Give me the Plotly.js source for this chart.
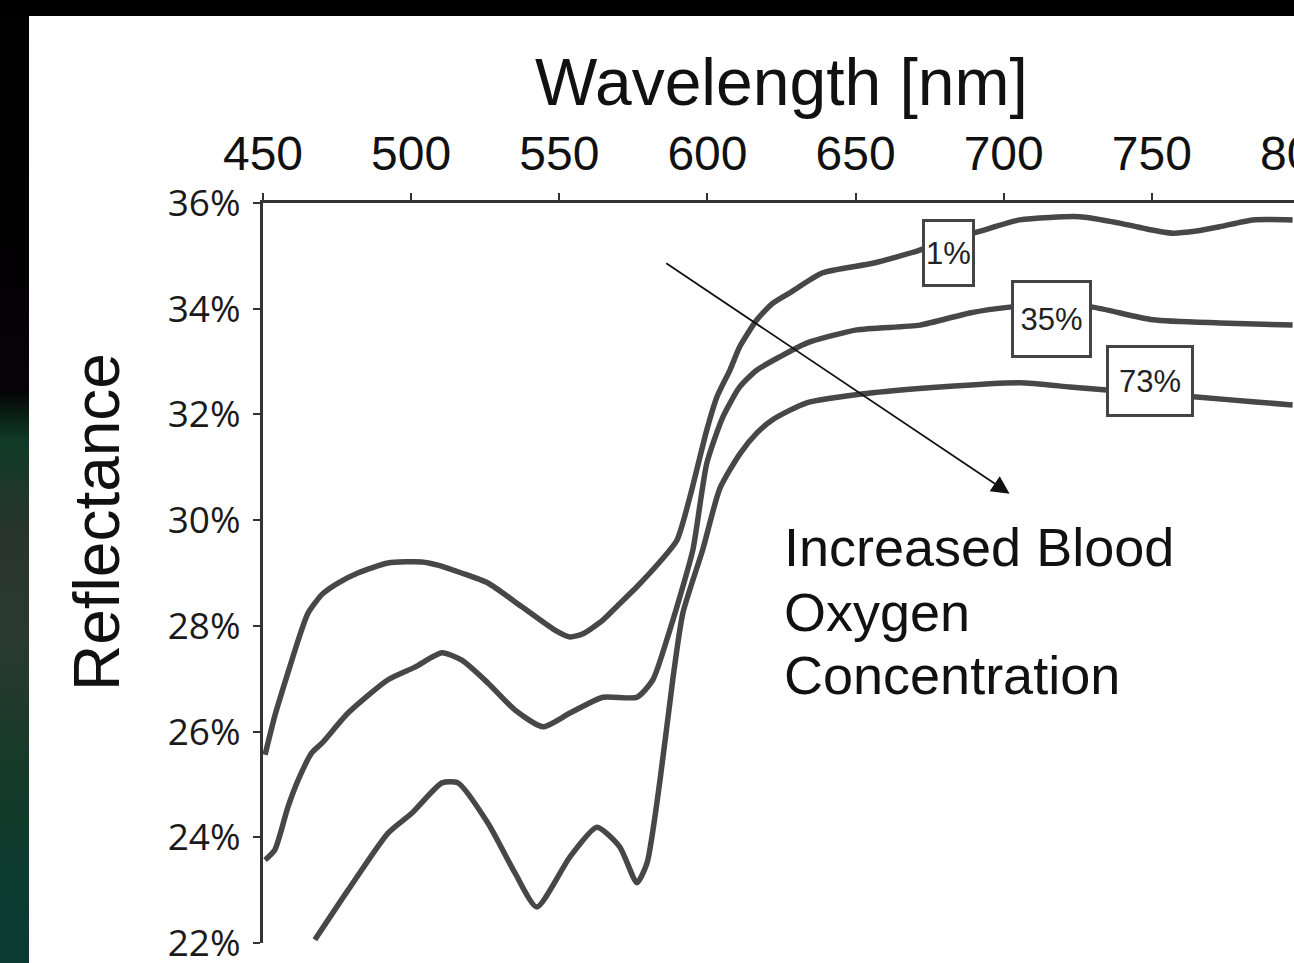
<!DOCTYPE html>
<html>
<head>
<meta charset="utf-8">
<script src="https://cdn.plot.ly/plotly-3.0.1.min.js"></script>
<style>
  html, body { margin:0; padding:0; width:1294px; height:963px; overflow:hidden; background:#000; }
  #strip { position:absolute; left:0; top:0; width:29px; height:963px;
    background: linear-gradient(to bottom, #000 0px, #050305 390px, #0f3a26 440px, #28352c 530px, #2a3a30 640px, #163a28 760px, #0c3b2f 880px, #0a3a32 963px); }
  #chart { position:absolute; left:29px; top:16px; width:1331px; height:1000px; background:#fff; }
</style>
</head>
<body>
<div id="strip"></div>
<div id="chart"></div>
<script>
// Wavelength ticks
const xTicks = [450, 500, 550, 600, 650, 700, 750, 800];
const yTicks = [22, 24, 26, 28, 30, 32, 34, 36];
const yTickText = ['22%', '24%', '26%', '28%', '30%', '32%', '34%', '36%'];

// 1% oxygen concentration
const wl1 = [450.7, 454, 458.4, 462, 465.2, 470, 475.3, 482, 492.2, 503.6, 509, 517, 525.9, 537.4, 548.5, 553.6, 558, 564.7, 570, 576.2, 583, 589.7, 594.1, 599.8, 603.2, 607.6, 610.9, 616.7, 622, 627.8, 638.9, 655.8, 671.7, 680, 690.9, 705.4, 725.6, 739.1, 749, 757, 765, 772.9, 784, 797.5];
const r1  = [25.56, 26.3, 27.11, 27.75, 28.24, 28.6, 28.81, 29.0, 29.19, 29.21, 29.15, 29.0, 28.81, 28.36, 27.92, 27.79, 27.85, 28.11, 28.4, 28.74, 29.15, 29.62, 30.44, 31.71, 32.33, 32.84, 33.28, 33.79, 34.1, 34.3, 34.68, 34.86, 35.11, 35.3, 35.45, 35.68, 35.74, 35.62, 35.5, 35.43, 35.47, 35.55, 35.68, 35.68];

// 35% oxygen concentration
const wl35 = [450.7, 454, 458.4, 462, 466.5, 469.9, 478.7, 492.2, 501.3, 510.4, 517.1, 525.9, 535, 544.5, 553.6, 564.7, 576.2, 581.6, 587.3, 590.7, 595.1, 599.8, 605.2, 610.9, 616.7, 624.4, 633.5, 650.4, 671.7, 688.5, 702, 716, 730, 750.3, 772.9, 797.5];
const r35  = [23.57, 23.76, 24.57, 25.1, 25.6, 25.78, 26.35, 26.98, 27.22, 27.49, 27.35, 26.92, 26.41, 26.09, 26.35, 26.65, 26.65, 26.98, 27.92, 28.55, 29.44, 31.08, 31.95, 32.52, 32.84, 33.09, 33.35, 33.6, 33.69, 33.92, 34.03, 34.08, 34.03, 33.79, 33.73, 33.69];

// 73% oxygen concentration
const wl73 = [467.5, 478.7, 492.2, 500.3, 510.4, 515.8, 525.9, 535, 542.4, 553.6, 562.7, 570.4, 576.2, 579.6, 584, 588.3, 591.7, 598.4, 604.2, 610.9, 616.7, 622, 633.5, 655.8, 678.4, 705.4, 722.3, 734.8, 750, 765.1, 784, 797.5];
const r73  = [22.06, 23.0, 24.08, 24.46, 25.03, 25.03, 24.27, 23.33, 22.68, 23.63, 24.19, 23.82, 23.14, 23.51, 25.08, 26.98, 28.24, 29.44, 30.6, 31.25, 31.65, 31.9, 32.22, 32.41, 32.52, 32.6, 32.52, 32.46, 32.4, 32.33, 32.24, 32.18];

const seriesNames = ["1%", "35%", "73%"];

const lineStyle = {color: '#474747', width: 5.5, shape: 'spline', smoothing: 0.6};
const traces = [
  {x: wl1, y: r1, name: seriesNames[0]},
  {x: wl35, y: r35, name: seriesNames[1]},
  {x: wl73, y: r73, name: seriesNames[2]}
].map(t => Object.assign(t, {type: 'scatter', mode: 'lines', line: lineStyle, showlegend: false, hoverinfo: 'skip'}));

const axisCol = '#333';
const sans = 'Liberation Sans, Arial, sans-serif';
const layout = {
  width: 1331, height: 1000,
  margin: {l: 234, r: 60, t: 187, b: 73},
  paper_bgcolor: '#fff', plot_bgcolor: '#fff',
  showlegend: false,
  xaxis: {
    side: 'top', range: [450, 800], tickmode: 'array', tickvals: xTicks,
    showgrid: false, zeroline: false,
    showline: true, linecolor: axisCol, linewidth: 3,
    ticks: 'outside', ticklen: 7, tickwidth: 2, tickcolor: axisCol,
    tickfont: {family: sans, size: 48, color: '#111'},
    ticklabelstandoff: 4,
    title: {text: 'Wavelength [nm]', font: {family: sans, size: 66, color: '#111'}, standoff: 0}
  },
  yaxis: {
    range: [22, 36], tickmode: 'array', tickvals: yTicks, ticktext: yTickText,
    showgrid: false, zeroline: false,
    showline: true, linecolor: axisCol, linewidth: 3,
    ticks: 'outside', ticklen: 7, tickwidth: 2, tickcolor: axisCol,
    tickfont: {family: 'Open Sans, sans-serif', size: 37, color: '#1a1a1a'},
    ticklabelstandoff: 5
  },
  xaxis2: {overlaying: 'x', side: 'top', anchor: 'y', range: [450, 800], tickmode: 'array', tickvals: xTicks,
    showgrid: false, zeroline: false, showline: false, showticklabels: false,
    ticks: 'inside', ticklen: 7, tickwidth: 2, tickcolor: axisCol},
  yaxis2: {overlaying: 'y', side: 'left', anchor: 'x', range: [22, 36], tickmode: 'array', tickvals: yTicks,
    showgrid: false, zeroline: false, showline: false, showticklabels: false,
    ticks: 'inside', ticklen: 7, tickwidth: 2, tickcolor: axisCol},
  annotations: [
    {xref: 'paper', yref: 'paper', x: -0.160, y: 0.569, xanchor: 'center', yanchor: 'middle',
     text: 'Reflectance', textangle: -90,
     showarrow: false, font: {family: sans, size: 64, color: '#111'}},
    // arrow
    {x: 702, y: 30.5, ax: 585.6, ay: 34.88, xref: 'x', yref: 'y', axref: 'x', ayref: 'y',
     text: '', showarrow: true, arrowhead: 2, arrowsize: 2, arrowwidth: 1.8, arrowcolor: '#111'},
    // boxed labels
    {x: 681.3, y: 35.05, text: seriesNames[0], showarrow: false, bgcolor: '#fff', bordercolor: '#444', borderwidth: 3, borderpad: 0, width: 47, height: 62,
     font: {family: sans, size: 31, color: '#222'}},
    {x: 716, y: 33.81, text: seriesNames[1], showarrow: false, bgcolor: '#fff', bordercolor: '#444', borderwidth: 3, borderpad: 0, width: 75, height: 72,
     font: {family: sans, size: 31, color: '#222'}},
    {x: 749.3, y: 32.63, text: seriesNames[2], showarrow: false, bgcolor: '#fff', bordercolor: '#444', borderwidth: 3, borderpad: 0, width: 82, height: 66,
     font: {family: sans, size: 31, color: '#222'}},
    // caption lines
    {x: 625.2, y: 29.49, xanchor: 'left', text: 'Increased Blood', showarrow: false,
     font: {family: sans, size: 54, color: '#111'}},
    {x: 625.2, y: 28.26, xanchor: 'left', text: 'Oxygen', showarrow: false,
     font: {family: sans, size: 54, color: '#111'}},
    {x: 625.2, y: 27.07, xanchor: 'left', text: 'Concentration', showarrow: false,
     font: {family: sans, size: 54, color: '#111'}}
  ]
};

Plotly.newPlot('chart', traces, layout, {displayModeBar: false, staticPlot: true});
</script>
</body>
</html>
